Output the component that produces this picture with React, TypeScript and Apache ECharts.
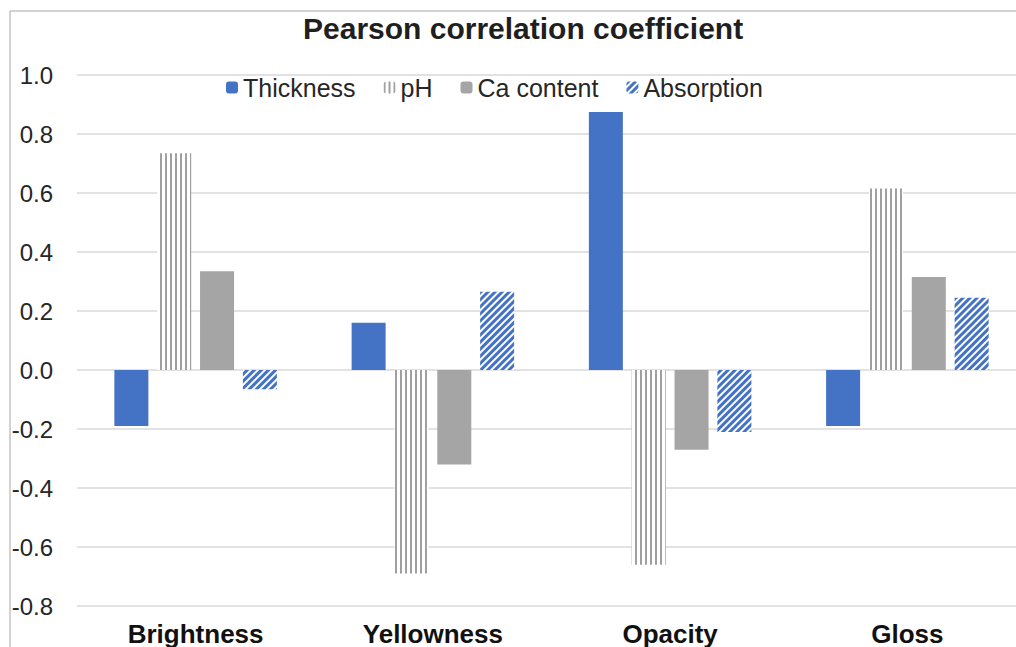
import React, { useEffect, useRef } from "react";
import * as echarts from "echarts";

const categories = ["Brightness", "Yellowness", "Opacity", "Gloss"];
const seriesNames = ["Thickness", "pH", "Ca content", "Absorption"];
const thickness = [-0.19, 0.16, 0.875, -0.19];
const pH = [0.735, -0.69, -0.66, 0.615];
const caContent = [0.335, -0.32, -0.27, 0.315];
const absorption = [-0.065, 0.265, -0.21, 0.245];
const yTicks = { min: -0.8, max: 1.0, interval: 0.2 };
const titleText = "Pearson correlation coefficient";

export default function App() {
  const ref = useRef<HTMLDivElement>(null);
  useEffect(() => {
    if (!ref.current) return;
    const chart = echarts.init(ref.current, null, { renderer: "svg" });
    const blue = "#4472C4";
    const gray = "#A5A5A5";
    const barBase = { type: "bar", barWidth: 34, barGap: "26%" };
    chart.setOption({
      animation: false,
      backgroundColor: "#ffffff",
      title: {
        text: titleText,
        left: 298,
        top: 8,
        textStyle: { fontFamily: "Liberation Sans, Arial", fontWeight: "bold", fontSize: 30, color: "#1f1f1f" },
      },
      legend: {
        data: seriesNames,
        left: 221,
        top: 70,
        itemWidth: 12,
        itemHeight: 12,
        itemGap: 28,
        textStyle: { fontFamily: "Liberation Sans, Arial", fontSize: 25, color: "#262626" },
      },
      graphic: [
        {
          type: "rect",
          z: -1,
          shape: { x: 10, y: 11, width: 1100, height: 700 },
          style: { fill: "none", stroke: "#a6a6a6", lineWidth: 1 },
        },
      ],
      grid: { left: 77, right: 4, top: 75, bottom: 40, containLabel: false },
      xAxis: {
        type: "category",
        data: categories,
        axisLine: { show: false, onZero: false },
        axisTick: { show: false },
        axisLabel: {
          margin: 15,
          fontFamily: "Liberation Sans, Arial",
          fontWeight: "bold",
          fontSize: 26,
          color: "#111111",
        },
        splitLine: { show: false },
      },
      yAxis: {
        type: "value",
        min: yTicks.min,
        max: yTicks.max,
        interval: yTicks.interval,
        axisLine: { show: false },
        axisTick: { show: false },
        axisLabel: {
          margin: 24,
          fontFamily: "Liberation Sans, Arial",
          fontSize: 24,
          color: "#262626",
          formatter: (v: number) => (Math.abs(v) < 1e-9 ? "0.0" : v.toFixed(1)),
        },
        splitLine: { lineStyle: { color: "#d9d9d9", width: 1.5 } },
      },
      series: [
        { ...barBase, name: seriesNames[0], data: thickness, itemStyle: { color: blue } },
        {
          ...barBase,
          name: seriesNames[1],
          data: pH,
          itemStyle: {
            color: "#ffffff",
            decal: {
              symbol: "rect",
              symbolSize: 1,
              color: "#a0a0a0",
              dashArrayX: [2, 2.2],
              dashArrayY: [10, 0],
              rotation: 0,
            },
          },
        },
        { ...barBase, name: seriesNames[2], data: caContent, itemStyle: { color: gray } },
        {
          ...barBase,
          name: seriesNames[3],
          data: absorption,
          itemStyle: {
            color: "#ffffff",
            decal: {
              symbol: "rect",
              symbolSize: 1,
              color: blue,
              dashArrayX: [10, 0],
              dashArrayY: [2.2, 2],
              rotation: -Math.PI / 4,
            },
          },
        },
      ],
    });
    return () => chart.dispose();
  }, []);
  return <div ref={ref} style={{ position: "fixed", left: 0, top: 0, width: 1030, height: 647 }} />;
}
